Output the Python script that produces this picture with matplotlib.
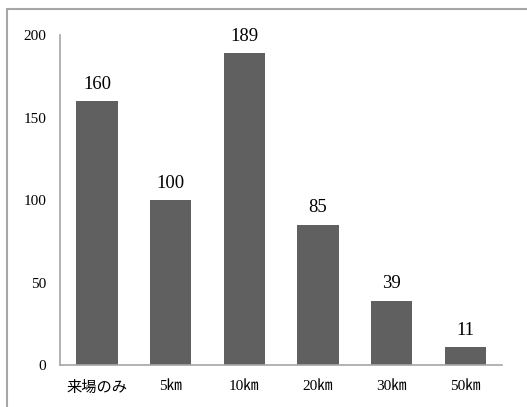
import matplotlib.pyplot as plt
from matplotlib.patches import Rectangle

# データ
categories = ['来場のみ', '5㎞', '10㎞', '20㎞', '30㎞', '50㎞']
counts = [160, 100, 189, 85, 39, 11]

plt.rcParams['font.family'] = ['Liberation Serif', 'Noto Sans CJK JP', 'DejaVu Sans']

fig = plt.figure(figsize=(5.27, 4.07), dpi=100)
ax = fig.add_axes([0.114, 0.103, 0.839, 0.811])

# 外枠 (上と左だけ見える)
fig.patches.append(Rectangle((7 / 527, -0.05), 1.1, 1 - 9 / 407 + 0.05,
                             transform=fig.transFigure, fill=False,
                             edgecolor='#a6a6a6', linewidth=1.5))

x = range(len(categories))
bars = ax.bar(x, counts, width=0.56, color='#606060')

for b, v in zip(bars, counts):
    ax.annotate(str(v), (b.get_x() + b.get_width() / 2, v),
                xytext=(0, 6), textcoords='offset points',
                ha='center', va='bottom', fontsize=13.5)

ax.set_xlim(-0.5, len(categories) - 0.5)
ax.set_ylim(0, 200)
ax.set_yticks([0, 50, 100, 150, 200])
ax.set_xticks(list(x))
ax.set_xticklabels(categories)
ax.tick_params(length=0, labelsize=11)
ax.tick_params(axis='y', pad=10)
ax.tick_params(axis='x', pad=11)

for s in ['top', 'right']:
    ax.spines[s].set_visible(False)
for s in ['left', 'bottom']:
    ax.spines[s].set_color('#a6a6a6')
    ax.spines[s].set_linewidth(1.2)

fig.savefig('out.png', dpi=100)
